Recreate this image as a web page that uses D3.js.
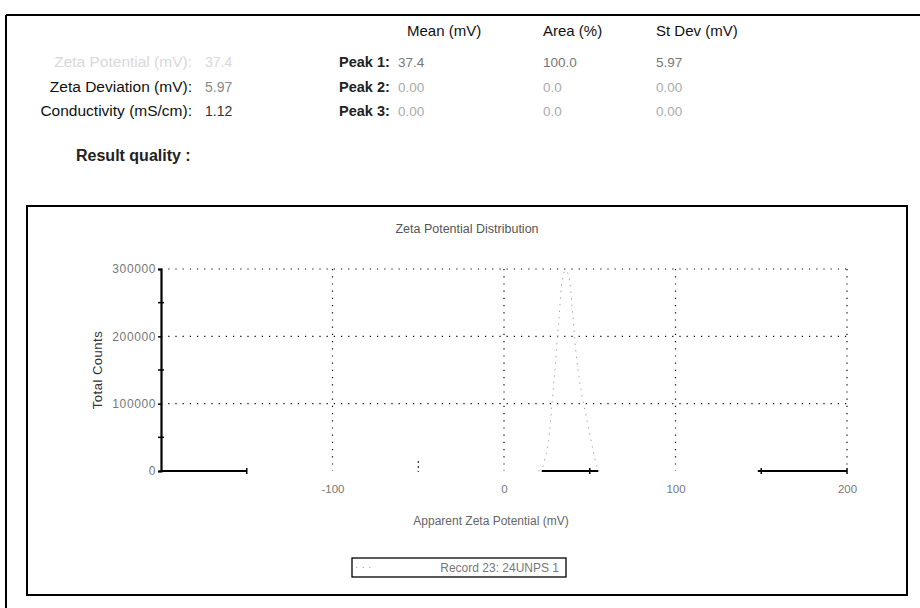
<!DOCTYPE html>
<html>
<head>
<meta charset="utf-8">
<script src="https://cdn.jsdelivr.net/npm/d3@7"></script>
<style>
  html, body { margin: 0; padding: 0; background: #fff; }
  svg { display: block; font-family: "Liberation Sans", Arial, sans-serif; }
</style>
</head>
<body>
<svg id="report" width="920" height="608"></svg>
<script>
// Summary table
const summaryLabels = ["Zeta Potential (mV):", "Zeta Deviation (mV):", "Conductivity (mS/cm):"];
const summaryValues = ["37.4", "5.97", "1.12"];
const peakColumns = ["Mean (mV)", "Area (%)", "St Dev (mV)"];
const peakNames = ["Peak 1:", "Peak 2:", "Peak 3:"];
const peakMeans = ["37.4", "0.00", "0.00"];
const peakAreas = ["100.0", "0.0", "0.0"];
const peakStDevs = ["5.97", "0.00", "0.00"];

// Distribution curve: apparent zeta potential (mV) vs total counts
const zetaMv = [20, 22, 24, 26, 28, 30, 32, 34, 36, 38, 40, 42, 44, 46, 48, 50, 52, 54, 56];
const totalCounts = [0, 3000, 20000, 44000, 100000, 160000, 225000, 285000, 298000, 287000,
                     235000, 175000, 135000, 105000, 80000, 55000, 30000, 8000, 0];

// Axes
const xDomain = [-200, 200];
const yDomain = [0, 300000];
const xTickValues = [-100, 0, 100, 200];
const xGridValues = [-100, 0, 100, 200];
const xMinorTicks = [-50];
const yTickValues = [0, 100000, 200000, 300000];
const yMinorTicks = [50000, 150000, 250000];
const xAxisSegments = [[-200, -150], [22, 55], [148, 200]];
const xSegmentMarks = [-150, 50, 150, 200];
const legendLabel = "Record 23: 24UNPS 1";

const svg = d3.select("#report");

// Outer report frame (top and left edges)
svg.append("line").attr("x1", 6).attr("x2", 920).attr("y1", 15).attr("y2", 15)
  .attr("stroke", "#000").attr("stroke-width", 2);
svg.append("line").attr("x1", 6).attr("x2", 6).attr("y1", 15).attr("y2", 608)
  .attr("stroke", "#000").attr("stroke-width", 2);

// Header table
const colX = [407, 543, 656];
svg.selectAll("text.colhead").data(peakColumns).join("text")
  .attr("class", "colhead")
  .attr("x", (d, i) => colX[i]).attr("y", 36)
  .attr("font-size", 15).attr("fill", "#111")
  .text(d => d);

const rowY = [67, 92, 116];
svg.selectAll("text.slabel").data(summaryLabels).join("text")
  .attr("class", "slabel")
  .attr("x", 192).attr("y", (d, i) => rowY[i])
  .attr("text-anchor", "end").attr("font-size", 15.5)
  .attr("fill", (d, i) => i === 0 ? "#d8d8d8" : "#111")
  .text(d => d);
svg.selectAll("text.svalue").data(summaryValues).join("text")
  .attr("class", "svalue")
  .attr("x", 205).attr("y", (d, i) => rowY[i])
  .attr("font-size", 14)
  .attr("fill", (d, i) => i === 0 ? "#d8d8d8" : (i === 1 ? "#888" : "#333"))
  .text(d => d);

svg.selectAll("text.pname").data(peakNames).join("text")
  .attr("class", "pname")
  .attr("x", 339).attr("y", (d, i) => rowY[i])
  .attr("font-size", 14.5).attr("font-weight", "bold").attr("fill", "#222")
  .text(d => d);
[peakMeans, peakAreas, peakStDevs].forEach((col, c) => {
  svg.selectAll("text.pv" + c).data(col).join("text")
    .attr("class", "pv" + c)
    .attr("x", c === 0 ? 398 : colX[c]).attr("y", (d, i) => rowY[i])
    .attr("font-size", 13.5)
    .attr("fill", (d, i) => i === 0 ? "#777" : "#aaa")
    .text(d => d);
});

svg.append("text").attr("x", 76).attr("y", 161)
  .attr("font-size", 16).attr("font-weight", "bold").attr("fill", "#222")
  .text("Result quality :");

// Chart frame
svg.append("rect").attr("x", 27).attr("y", 206).attr("width", 880).attr("height", 389)
  .attr("fill", "none").attr("stroke", "#000").attr("stroke-width", 2);

const x = d3.scaleLinear().domain(xDomain).range([161, 847]);
const y = d3.scaleLinear().domain(yDomain).range([471, 269]);

svg.append("text").attr("x", 467).attr("y", 233)
  .attr("text-anchor", "middle").attr("font-size", 12.5).attr("fill", "#555")
  .text("Zeta Potential Distribution");

// Dotted grid
const grid = svg.append("g").attr("stroke", "#000").attr("stroke-width", 1.2)
  .attr("stroke-dasharray", "1.2,6");
grid.selectAll("line.h").data(yTickValues.filter(v => v > 0)).join("line")
  .attr("class", "h")
  .attr("x1", x(xDomain[0])).attr("x2", x(xDomain[1]))
  .attr("y1", d => y(d)).attr("y2", d => y(d));
grid.selectAll("line.v").data(xGridValues).join("line")
  .attr("class", "v")
  .attr("x1", d => x(d)).attr("x2", d => x(d))
  .attr("y1", y(yDomain[1])).attr("y2", y(0));

// Minor x marks near the baseline
svg.selectAll("line.xminor").data(xMinorTicks).join("line")
  .attr("class", "xminor")
  .attr("x1", d => x(d)).attr("x2", d => x(d))
  .attr("y1", y(0) - 10).attr("y2", y(0) + 1)
  .attr("stroke", "#000").attr("stroke-dasharray", "2,3");

// Distribution curve
const line = d3.line().x((d, i) => x(zetaMv[i])).y(d => y(d)).curve(d3.curveMonotoneX);
svg.append("path").datum(totalCounts)
  .attr("d", line)
  .attr("fill", "none").attr("stroke", "#aaa").attr("stroke-width", 1)
  .attr("stroke-dasharray", "1.5,5");

// Y axis
const yAxis = d3.axisLeft(y).tickValues(yTickValues).tickSize(3).tickFormat(d3.format("d"));
const gy = svg.append("g").attr("transform", `translate(${x(xDomain[0])},0)`).call(yAxis);
gy.select(".domain").attr("stroke", "#000").attr("stroke-width", 2.2);
gy.selectAll(".tick line").attr("stroke", "#000").attr("stroke-width", 1.5);
gy.selectAll(".tick text").attr("font-size", 12).attr("fill", "#777")
  .attr("letter-spacing", 0.6)
  .attr("font-family", "'Liberation Sans', Arial, sans-serif").attr("x", -5);
gy.selectAll("line.yminor").data(yMinorTicks).join("line")
  .attr("class", "yminor")
  .attr("x1", -3).attr("x2", 3)
  .attr("y1", d => y(d)).attr("y2", d => y(d))
  .attr("stroke", "#000").attr("stroke-width", 1.5);

svg.append("text")
  .attr("transform", `translate(102,${(y(0) + y(yDomain[1])) / 2}) rotate(-90)`)
  .attr("text-anchor", "middle").attr("font-size", 13).attr("fill", "#333")
  .attr("letter-spacing", 0.5)
  .text("Total Counts");

// X axis labels
const xAxis = d3.axisBottom(x).tickValues(xTickValues).tickSize(0).tickPadding(14)
  .tickFormat(d => String(d));
const gx = svg.append("g").attr("transform", `translate(0,${y(0)})`).call(xAxis);
gx.select(".domain").remove();
gx.selectAll(".tick text").attr("font-size", 11.5).attr("fill", "#777")
  .attr("font-family", "'Liberation Sans', Arial, sans-serif");

// Visible x baseline segments
svg.selectAll("line.xseg").data(xAxisSegments).join("line")
  .attr("class", "xseg")
  .attr("x1", d => x(d[0])).attr("x2", d => x(d[1]))
  .attr("y1", y(0)).attr("y2", y(0))
  .attr("stroke", "#000").attr("stroke-width", 2.2);
svg.selectAll("line.xmark").data(xSegmentMarks).join("line")
  .attr("class", "xmark")
  .attr("x1", d => x(d)).attr("x2", d => x(d))
  .attr("y1", y(0) - 3).attr("y2", y(0) + 3)
  .attr("stroke", "#000").attr("stroke-width", 1.5);

svg.append("text").attr("x", 491).attr("y", 525)
  .attr("text-anchor", "middle").attr("font-size", 12).attr("fill", "#666")
  .text("Apparent Zeta Potential (mV)");

// Legend
svg.append("rect").attr("x", 352).attr("y", 558).attr("width", 214).attr("height", 19)
  .attr("fill", "#fff").attr("stroke", "#000").attr("stroke-width", 1.3);
svg.append("line").attr("x1", 356).attr("x2", 374).attr("y1", 567.5).attr("y2", 567.5)
  .attr("stroke", "#bbb").attr("stroke-dasharray", "1.5,5");
svg.append("text").attr("x", 559).attr("y", 572)
  .attr("text-anchor", "end").attr("font-size", 12).attr("fill", "#777")
  .text(legendLabel);
</script>
</body>
</html>
